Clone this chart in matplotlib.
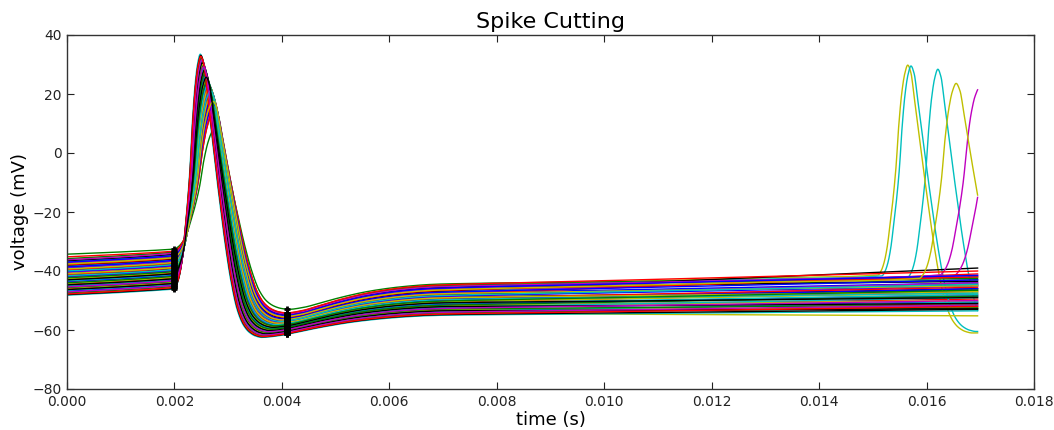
import numpy as np
import matplotlib
matplotlib.use("Agg")
import matplotlib.pyplot as plt

# ---------------- data (times in ms, voltages in mV) -------------
COLOR_CYCLE = ["#0000ff", "#008000", "#ff0000", "#00bfbf", "#bf00bf", "#bfbf00", "#000000"]
T_END = 16.95          # last sample of each trace (ms)
T_MARK1 = 2.0          # first cut marker (ms)
T_MARK2 = 4.1          # second cut marker (ms)

V_START = [-39.0, -40.9, -46.0, -38.3, -43.6, -36.0, -41.5, -46.8, -34.3, -44.4, -36.8, -42.0, -47.7, -39.7,
           -45.1, -37.4, -42.8, -48.2, -40.5, -45.8, -38.0, -43.5, -35.8, -41.2, -46.5, -38.7, -44.2, -36.5,
           -41.8, -47.4, -39.6, -44.9, -37.2, -42.6, -48.0, -40.2, -45.6, -37.9, -43.3, -36.2, -40.9, -46.3,
           -38.6, -44.0, -35.2, -41.6, -47.1, -39.3, -44.7, -37.0, -42.3, -47.8, -40.0, -45.4, -37.6, -43.0]
V_ONSET = [-36.8, -38.4, -43.9, -36.1, -41.5, -33.7, -39.1, -44.6, -32.5, -42.2, -34.4, -39.9, -45.3, -37.5,
           -42.9, -35.1, -40.6, -46.0, -38.2, -43.6, -35.8, -41.3, -33.5, -38.9, -44.3, -36.5, -42.0, -34.2,
           -39.6, -45.1, -37.3, -42.7, -34.9, -40.3, -45.8, -38.0, -43.4, -35.6, -41.0, -33.9, -38.7, -44.1,
           -36.3, -41.7, -33.2, -39.4, -44.8, -37.0, -42.5, -34.7, -40.1, -45.5, -37.7, -43.2, -35.4, -40.8]
PEAK_V = [19.7, 22.2, 30.3, 18.6, 26.8, 15.1, 23.2, 31.4, 9.0, 27.8, 16.1, 24.3, 32.4, 20.7,
          28.9, 17.2, 25.3, 33.5, 21.8, 30.0, 18.3, 26.4, 14.7, 22.9, 31.0, 19.3, 27.5, 15.8,
          23.9, 32.1, 20.4, 28.5, 16.8, 25.0, 33.1, 21.4, 29.6, 17.9, 26.1, 15.4, 22.5, 30.7,
          19.0, 27.1, 14.4, 23.6, 31.7, 20.0, 28.2, 16.5, 24.6, 32.8, 21.1, 29.2, 17.5, 25.7]
PEAK_T = [2.69, 2.66, 2.53, 2.70, 2.57, 2.74, 2.64, 2.51, 2.78, 2.56, 2.73, 2.61, 2.50, 2.68,
          2.55, 2.72, 2.60, 2.48, 2.66, 2.53, 2.71, 2.58, 2.75, 2.64, 2.52, 2.70, 2.57, 2.73,
          2.62, 2.50, 2.68, 2.55, 2.72, 2.60, 2.49, 2.67, 2.54, 2.71, 2.59, 2.74, 2.65, 2.52,
          2.70, 2.57, 2.75, 2.63, 2.51, 2.69, 2.56, 2.73, 2.61, 2.49, 2.67, 2.54, 2.72, 2.59]
TROUGH_V = [-56.5, -57.6, -61.1, -56.0, -59.6, -54.5, -58.0, -61.6, -53.0, -60.0, -54.9, -58.5, -62.0, -56.9,
            -60.5, -55.4, -58.9, -62.5, -57.4, -61.0, -55.9, -59.4, -54.3, -57.9, -61.4, -56.3, -59.9, -54.8,
            -58.3, -61.9, -56.8, -60.3, -55.2, -58.8, -62.3, -57.2, -60.8, -55.7, -59.3, -54.6, -57.7, -61.3,
            -56.2, -59.7, -54.2, -58.2, -61.7, -56.6, -60.2, -55.1, -58.6, -62.2, -57.1, -60.6, -55.5, -59.1]
TROUGH_T = [4.01, 3.94, 3.71, 4.02, 3.80, 4.07, 3.91, 3.68, 4.12, 3.78, 4.06, 3.87, 3.65, 3.98,
            3.75, 4.05, 3.84, 3.62, 3.96, 3.72, 4.03, 3.81, 4.08, 3.92, 3.69, 4.01, 3.79, 4.06,
            3.89, 3.66, 3.99, 3.76, 4.05, 3.85, 3.63, 3.97, 3.73, 4.04, 3.82, 4.07, 3.93, 3.70,
            4.02, 3.80, 4.08, 3.90, 3.67, 4.00, 3.77, 4.06, 3.86, 3.64, 3.97, 3.74, 4.04, 3.83]
V_7MS = [-47.6, -48.9, -53.3, -47.0, -51.4, -45.1, -49.5, -53.9, -44.4, -51.9, -45.6, -50.0, -54.4, -48.1,
         -52.5, -46.2, -50.6, -55.0, -48.7, -53.1, -46.8, -51.2, -44.9, -49.3, -53.7, -47.4, -51.8, -45.5,
         -49.8, -54.2, -47.9, -52.3, -46.0, -50.4, -54.8, -48.5, -52.9, -46.6, -51.0, -45.3, -49.1, -53.5,
         -47.2, -51.6, -44.7, -49.7, -54.0, -47.7, -52.1, -45.8, -50.2, -54.6, -48.3, -52.7, -46.4, -50.8]
V_END = [-44.0, -46.5, -51.0, -41.5, -48.0, -40.5, -46.0, -52.0, -42.0, -49.5, -40.8, -45.0, -55.2, -44.5,
         -50.5, -43.0, -47.0, -53.5, -44.0, -52.5, -39.0, -48.5, -42.5, -45.5, -50.5, -41.5, -50.0, -43.5,
         -46.0, -52.5, -41.0, -49.0, -41.0, -47.5, -53.0, -45.0, -51.5, -42.0, -48.0, -41.5, -47.0, -52.8,
         -43.0, -48.5, -40.0, -47.5, -51.5, -45.0, -51.0, -41.5, -46.5, -52.0, -44.5, -50.0, -42.0, -49.0]

# second (late) spikes appearing at the end of some traces
LATE_IDX = [5, 10, 3, 54, 32, 25]
LATE_ONSET = [15.10, 15.17, 15.65, 15.87, 16.25, 16.50]
LATE_PEAK_T = [15.65, 15.71, 16.21, 16.55, 16.98, 17.35]
LATE_PEAK_V = [29.8, 29.5, 28.4, 23.6, 22.0, 25.0]
LATE_TROUGH_T = [16.85, 16.92, 17.40, 18.00, 18.20, 18.50]
LATE_TROUGH_V = [-61.0, -60.5, -61.0, -61.0, -61.0, -61.0]

# normalised spike shape
PRE_U = [0.25, 0.5, 0.75, 0.9]
PRE_F = [0.20, 0.42, 0.66, 0.83]
RISE_U = [0.1, 0.2, 0.3, 0.4, 0.5, 0.6, 0.7, 0.8, 0.9]
RISE_F = [0.02, 0.06, 0.13, 0.24, 0.36, 0.51, 0.72, 0.87, 0.96]
FALL_U = [0.05, 0.1, 0.2, 0.3, 0.4, 0.5, 0.6, 0.7, 0.8, 0.9]
FALL_G = [0.97, 0.88, 0.69, 0.51, 0.34, 0.20, 0.10, 0.045, 0.018, 0.005]
REC_U = [0.1, 0.2, 0.3, 0.4, 0.5, 0.6, 0.7, 0.8, 0.9]
REC_H = [0.08, 0.24, 0.41, 0.56, 0.69, 0.79, 0.87, 0.93, 0.975]

N = len(V_START)
assert all(len(a) == N for a in [V_ONSET, PEAK_V, PEAK_T, TROUGH_V, TROUGH_T, V_7MS, V_END])


def pchip(xk, yk, x):
    xk = np.asarray(xk, float)
    yk = np.asarray(yk, float)
    h = np.diff(xk)
    d = np.diff(yk) / h
    m = np.zeros_like(yk)
    for k in range(1, len(xk) - 1):
        if d[k - 1] * d[k] > 0:
            w1 = 2 * h[k] + h[k - 1]
            w2 = h[k] + 2 * h[k - 1]
            m[k] = (w1 + w2) / (w1 / d[k - 1] + w2 / d[k])
    m[0] = d[0]
    m[-1] = d[-1]
    idx = np.clip(np.searchsorted(xk, x, side="right") - 1, 0, len(h) - 1)
    s = (x - xk[idx]) / h[idx]
    h00 = 2 * s**3 - 3 * s**2 + 1
    h10 = s**3 - 2 * s**2 + s
    h01 = -2 * s**3 + 3 * s**2
    h11 = s**3 - s**2
    return h00 * yk[idx] + h10 * h[idx] * m[idx] + h01 * yk[idx + 1] + h11 * h[idx] * m[idx + 1]


def late_line(i, tq):
    return V_7MS[i] + (V_END[i] - V_7MS[i]) * (tq - 7.0) / (T_END - 7.0)


def anchors(i):
    xs, ys = [0.0], [V_START[i]]
    for u, f in zip(PRE_U, PRE_F):
        xs.append(u * T_MARK1)
        ys.append(V_START[i] + f * (V_ONSET[i] - V_START[i]))
    xs.append(T_MARK1)
    ys.append(V_ONSET[i])
    tp, pk = PEAK_T[i], PEAK_V[i]
    for u, f in zip(RISE_U, RISE_F):
        xs.append(T_MARK1 + u * (tp - T_MARK1))
        ys.append(V_ONSET[i] + f * (pk - V_ONSET[i]))
    xs.append(tp)
    ys.append(pk)
    tt, tr = TROUGH_T[i], TROUGH_V[i]
    for u, g in zip(FALL_U, FALL_G):
        xs.append(tp + u * (tt - tp))
        ys.append(tr + g * (pk - tr))
    xs.append(tt)
    ys.append(tr)
    for u, hh in zip(REC_U, REC_H):
        xs.append(tt + u * (7.0 - tt))
        ys.append(tr + hh * (V_7MS[i] - tr))
    xs.append(7.0)
    ys.append(V_7MS[i])
    if i in LATE_IDX:
        j = LATE_IDX.index(i)
        ts = LATE_ONSET[j]
        for tq in (10.0, 13.0):
            if tq < ts - 0.5:
                xs.append(tq)
                ys.append(late_line(i, tq))
        base = late_line(i, ts)
        xs.append(ts)
        ys.append(base)
        tp2, pk2 = LATE_PEAK_T[j], LATE_PEAK_V[j]
        for u, f in zip(RISE_U, RISE_F):
            xs.append(ts + u * (tp2 - ts))
            ys.append(base + f * (pk2 - base))
        xs.append(tp2)
        ys.append(pk2)
        tt2, tr2 = LATE_TROUGH_T[j], LATE_TROUGH_V[j]
        for u, g in zip(FALL_U, FALL_G):
            xs.append(tp2 + u * (tt2 - tp2))
            ys.append(tr2 + g * (pk2 - tr2))
        xs.append(tt2)
        ys.append(tr2)
        xs.append(tt2 + 0.5)
        ys.append(tr2 + 0.3)
    else:
        for tq in (10.0, 13.0, T_END):
            xs.append(tq)
            ys.append(late_line(i, tq))
    return xs, ys


t_ms = np.arange(0.0, T_END + 0.001, 0.01)

fig = plt.figure(figsize=(10.54, 4.30), dpi=100)
ax = fig.add_axes([67 / 1054, 1 - 389 / 430, (1034 - 67) / 1054, (389 - 35) / 430])

mark1_v, mark2_v = [], []
for i in range(N):
    xs, ys = anchors(i)
    v = pchip(xs, ys, t_ms)
    ax.plot(t_ms / 1000.0, v, color=COLOR_CYCLE[i % 7], lw=1.0)
    mark1_v.append(np.interp(T_MARK1, t_ms, v))
    mark2_v.append(np.interp(T_MARK2, t_ms, v))

ax.plot(np.full(N, T_MARK1 / 1000.0), mark1_v, "+", color="black", ms=5, mew=2, zorder=5)
ax.plot(np.full(N, T_MARK2 / 1000.0), mark2_v, "+", color="black", ms=5, mew=2, zorder=5)

ax.set_xlim(0, 0.018)
ax.set_ylim(-80, 40)
ax.set_xticks(np.arange(0, 0.0181, 0.002))
ax.set_xticklabels(["%.3f" % x for x in np.arange(0, 0.0181, 0.002)])
ax.set_yticks(np.arange(-80, 41, 20))
ax.tick_params(direction="in", top=True, right=True, length=5, width=0.8,
               labelsize=10, pad=4, colors="#222222")
for sp in ax.spines.values():
    sp.set_color("#333333")
    sp.set_linewidth(1.0)

ax.set_title("Spike Cutting", fontsize=16, pad=5)
ax.set_xlabel("time (s)", fontsize=13, labelpad=2)
ax.set_ylabel("voltage (mV)", fontsize=13, labelpad=2)

fig.savefig("out.png", dpi=100)
